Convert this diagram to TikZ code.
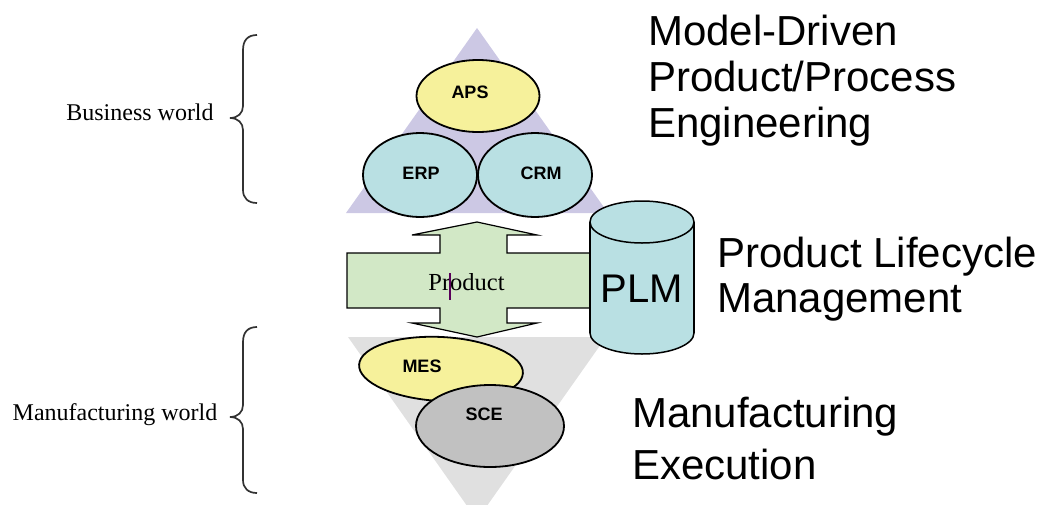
\documentclass[tikz,border=0pt]{standalone}
\usepackage{fontspec}
\setmainfont{Liberation Serif}
\setsansfont{Liberation Sans}
\usetikzlibrary{shapes.geometric}
\definecolor{lav}{RGB}{204,200,228}
\definecolor{yel}{RGB}{246,241,155}
\definecolor{teal}{RGB}{185,224,227}
\definecolor{grn}{RGB}{210,232,198}
\definecolor{gtri}{RGB}{224,224,224}
\definecolor{gsce}{RGB}{193,193,193}
\definecolor{bracec}{RGB}{50,50,50}
\begin{document}
\begin{tikzpicture}[x=1pt,y=-1pt,
  oval/.style={ellipse,draw=black,line width=1.8pt,inner sep=0pt},
  ovtext/.style={font=\sffamily\bfseries\fontsize{18}{20}\selectfont},
  bigtext/.style={font=\sffamily\fontsize{42}{46}\selectfont,anchor=base west,inner sep=0pt},
  sidetext/.style={font=\fontsize{24}{26}\selectfont,anchor=base,inner sep=0pt},
  bracestyle/.style={draw=bracec,line width=1.7pt}]
\useasboundingbox (0,0) rectangle (1047,504);
\clip (0,0) rectangle (1047,504);
% top triangle
\fill[lav] (346,213) -- (477,28) -- (608,213) -- cycle;
\node[oval,fill=yel,minimum width=123pt,minimum height=72pt] (aps) at (478,96) {};
\node[oval,fill=teal,minimum width=114pt,minimum height=84pt] (erp) at (420,175) {};
\node[oval,fill=teal,minimum width=114pt,minimum height=84pt] (crm) at (535,175) {};
\node[ovtext] (apst) at (470,92) {APS};
\node[ovtext] (erpt) at (421,173) {ERP};
\node[ovtext] (crmt) at (541,173) {CRM};
% bottom triangle
\fill[gtri] (348,337) -- (606,337) -- (477,520) -- cycle;
\node[oval,fill=yel,minimum width=164pt,minimum height=64pt,rotate=-3] (mes) at (441,369) {};
\node[oval,fill=gsce,minimum width=148pt,minimum height=82pt] (sce) at (490,426) {};
\node[ovtext] (mest) at (422,366) {MES};
\node[ovtext] (scet) at (484,414) {SCE};
% product arrow
\filldraw[fill=grn,draw=black,line width=1.2pt,line join=miter]
  (477,222) -- (537,235) -- (507,235) -- (507,253) -- (590,253) -- (590,308)
  -- (507,308) -- (507,323) -- (537,323) -- (477,337) -- (412,323) -- (440,323)
  -- (440,308) -- (347,308) -- (347,253) -- (440,253) -- (440,235) -- (412,235) -- cycle;
\node[font=\fontsize{24.5}{26}\selectfont,inner sep=0pt,anchor=base] (prod) at (466.5,290) {Product};
\draw[violet!70!black,line width=1.2pt] (450,273) -- (450,300);
% cylinder PLM
\filldraw[fill=teal,draw=black,line width=1.5pt] (642,333) ellipse (52pt and 21pt);
\fill[teal] (590,222) rectangle (694,333);
\draw[line width=1.5pt] (590,222) -- (590,333);
\draw[line width=1.5pt] (694,222) -- (694,333);
\filldraw[fill=teal,draw=black,line width=1.5pt] (642,222) ellipse (52pt and 21pt);
\node[font=\sffamily\fontsize{40}{44}\selectfont,inner sep=0pt] (plm) at (642,289) {PLM};
% right texts
\node[bigtext] (t1) at (648,45) {Model-Driven};
\node[bigtext] (t2) at (648,91) {Product/Process};
\node[bigtext] (t3) at (648,137) {Engineering};
\node[bigtext] (t4) at (717,267) {Product Lifecycle};
\node[bigtext] (t5) at (717,312) {Management};
\node[bigtext] (t6) at (632,427) {Manufacturing};
\node[bigtext] (t7) at (632,479) {Execution};
% braces and side labels
\draw[bracestyle] (257,35) .. controls (248,35) and (243,40) .. (243,50) -- (243,106)
  .. controls (243,113) and (238,118) .. (230,118)
  .. controls (238,118) and (243,123) .. (243,130) -- (243,190)
  .. controls (243,198) and (248,203) .. (257,203);
\draw[bracestyle] (257,327) .. controls (248,327) and (243,332) .. (243,342) -- (243,405)
  .. controls (243,412) and (238,417) .. (230,417)
  .. controls (238,417) and (243,422) .. (243,429) -- (243,480)
  .. controls (243,488) and (248,493) .. (257,493);
\node[sidetext] (bw) at (140,120) {Business world};
\node[sidetext] (mw) at (115,420) {Manufacturing world};
\end{tikzpicture}
\end{document}
